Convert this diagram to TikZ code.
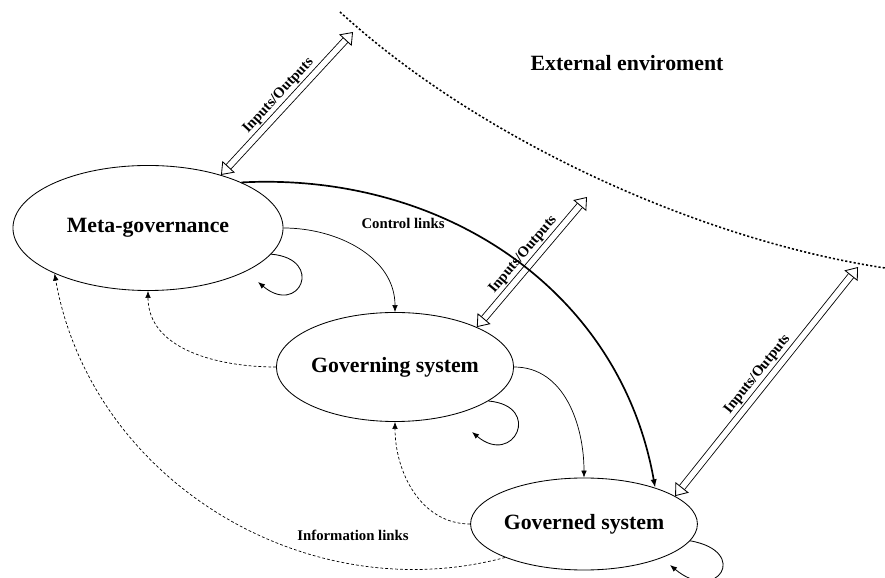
\documentclass[tikz,border=0pt]{standalone}
\usepackage{fontspec}
\setmainfont{Liberation Serif}
\usetikzlibrary{shapes.geometric,arrows.meta,positioning}

\begin{document}
\begin{tikzpicture}[
  x=0.025cm, y=0.025cm,
  sys/.style={draw, ellipse, line width=0.6pt, inner sep=0pt, font=\fontsize{15.5}{18}\selectfont\bfseries},
  lbl/.style={font=\fontsize{10.5}{12}\selectfont\bfseries},
  ctrl/.style={-{Latex[length=5pt,width=4pt]}, line width=0.5pt},
  mainctrl/.style={-{Latex[length=6pt,width=4.5pt]}, line width=1.2pt},
  info/.style={-{Latex[length=5pt,width=4pt]}, line width=0.5pt, dash pattern=on 2pt off 1.5pt},
  selfloop/.style={-{Latex[length=5pt,width=4pt]}, line width=0.6pt},
  io/.style={{Triangle[open, length=8pt, width=12pt]}-{Triangle[open, length=8pt, width=12pt]}, double, double distance=4pt, line width=0.6pt},
  envline/.style={line width=1.1pt, dash pattern=on 1.5pt off 1.5pt}
]
\useasboundingbox (0,0) rectangle (885,577);

\node[sys, minimum width=6.75cm, minimum height=3.125cm] (meta) at (148,349) {Meta-governance};
\node[sys, minimum width=5.9cm, minimum height=2.725cm] (gov) at (395,210) {Governing system};
\node[sys, minimum width=5.025cm, minimum height=2.3cm] (ged) at (584,53) {Governed system};
\node[font=\fontsize{15.5}{18}\selectfont\bfseries] (env) at (627,514) {External enviroment};
\node[lbl] (ctrllbl) at (403,354) {Control links};
\node[lbl] (infolbl) at (353,42) {Information links};

\coordinate (io1) at (353,545);
\coordinate (io2) at (587,380);
\coordinate (io3) at (858,310);
\coordinate (mloop) at (258,295);
\coordinate (gloop) at (472,145);
\coordinate (dloop) at (670,12);

\draw[envline] (340,565) .. controls (480,437) and (700,337) .. (885,309);

\draw[io] (meta.36) -- node[lbl, sloped, above] {Inputs/Outputs} (io1);
\draw[io] (gov.26) -- node[lbl, sloped, above] {Inputs/Outputs} (io2);
\draw[io] (ged.17) -- node[lbl, sloped, above] {Inputs/Outputs} (io3);

\draw[ctrl] (meta.east) to[out=0, in=90] (gov.north);
\draw[ctrl] (gov.east) to[out=0, in=90] (ged.north);
\draw[mainctrl] (meta.26) to[out=3, in=100] (ged.27);

\draw[info] (gov.west) to[out=180, in=-90] (meta.south);
\draw[info] (ged.west) to[out=180, in=-90] (gov.south);
\draw[info] (ged.203) to[out=195, in=-80] (meta.206);

\draw[selfloop] (meta.-12) to[out=-5, in=-40, looseness=4.5] (mloop);
\draw[selfloop] (gov.-20) to[out=-5, in=-40, looseness=4] (gloop);
\draw[selfloop] (ged.-9) to[out=-10, in=-40, looseness=5] (dloop);
\end{tikzpicture}
\end{document}
